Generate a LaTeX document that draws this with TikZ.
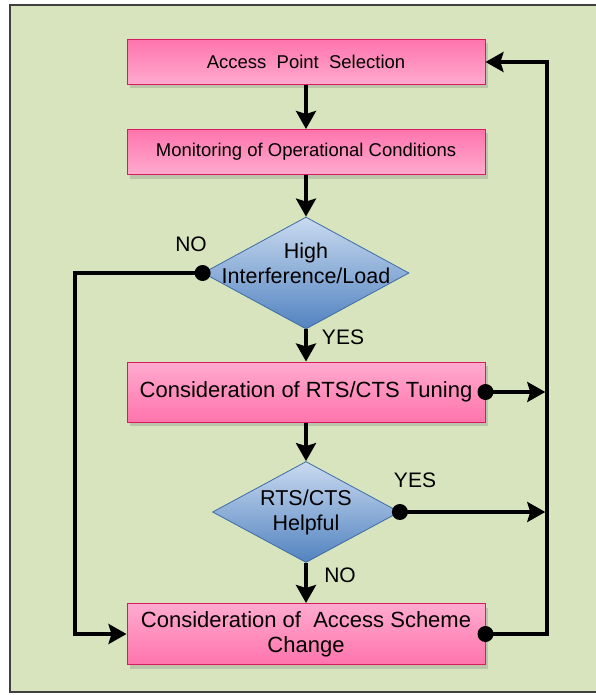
\documentclass[tikz,border=0pt]{standalone}
\usepackage{fontspec}
\setmainfont{Liberation Sans}
\usepackage{tikz}
\usetikzlibrary{shapes, arrows.meta, shadows, calc}
\definecolor{bggreen}{HTML}{D7E4BD}
\definecolor{pinkdark}{HTML}{FF74AC}
\definecolor{pinklight}{HTML}{FFABCF}
\definecolor{pinkedge}{HTML}{D81B60}
\definecolor{bluelight}{HTML}{C9DAF0}
\definecolor{bluedark}{HTML}{5283C0}
\definecolor{blueedge}{HTML}{3E6CA4}

\begin{document}
\begin{tikzpicture}[x=1pt, y=-1pt, >={Stealth[length=18pt,width=20pt,inset=3pt]},
    flow/.style={line width=3.5pt},
    procbox/.style={rectangle, draw=pinkedge, line width=1pt, minimum width=358pt, inner sep=0pt, align=center, drop shadow={shadow xshift=3pt, shadow yshift=-4pt, opacity=0.3}},
    smallbox/.style={procbox, minimum height=45pt, top color=pinkdark, bottom color=pinklight, font=\fontsize{18.5}{22}\selectfont},
    bigbox/.style={procbox, minimum height=61pt, top color=pinklight, bottom color=pinkdark, font=\fontsize{22}{25}\selectfont},
    decision/.style={diamond, draw=blueedge, line width=0.8pt, top color=bluelight, bottom color=bluedark, inner sep=0pt},
    dtext/.style={align=center, inner sep=0pt, font=\fontsize{21.5}{25}\selectfont},
    lbl/.style={inner sep=0pt, font=\fontsize{21}{24}\selectfont}]

    \useasboundingbox (0,0) rectangle (595,695);
    \draw[fill=bggreen, draw=black!75, line width=1.2pt] (10,5) rectangle (612,692);

    % boxes and decisions
    \node[smallbox] (aps) at (306,62) {Access~ Point~ Selection};
    \node[smallbox] (mon) at (306,152) {Monitoring of Operational Conditions};
    \node[decision, minimum width=206pt, minimum height=112pt, label={[dtext, yshift=10pt]center:High\\Interference/Load}] (hil) at (306,273) {};
    \node[bigbox, minimum height=60pt] (rts) at (306,392) {Consideration of RTS/CTS Tuning};
    \node[decision, minimum width=187pt, minimum height=101pt, label={[dtext]center:RTS/CTS\\Helpful}] (hlp) at (306,512) {};
    \node[bigbox] (ace) at (306,634) {Consideration of~ Access Scheme\\Change};

    \coordinate (lbus) at (75,273);
    \coordinate (rbus) at (547,62);

    % main flow
    \draw[flow,->] (aps) -- (mon);
    \draw[flow,->] (mon) -- (hil);
    \draw[flow,->] (hil) -- (rts);
    \draw[flow,->] (rts) -- (hlp);
    \draw[flow,->] (hlp) -- (ace);

    % side paths
    \draw[flow,->] (hil.west) -- (lbus) |- (ace.west);
    \draw[flow,->,shorten >=1.75pt] (rts.east) -- (rts.east -| rbus);
    \draw[flow,->,shorten >=1.75pt] (hlp.east) -- (hlp.east -| rbus);
    \draw[flow,->] (ace.east) -| (rbus) -- (aps.east);

    \fill (hil.west) circle (8pt);
    \fill (rts.east) circle (8pt);
    \fill (hlp.east) circle (8pt);
    \fill (ace.east) circle (8pt);

    \node[lbl] (nohi) at (191,244) {NO};
    \node[lbl] (yeshi) at (343,337) {YES};
    \node[lbl] (yeshlp) at (415,480) {YES};
    \node[lbl] (nohlp) at (340,575) {NO};

\end{tikzpicture}
\end{document}
